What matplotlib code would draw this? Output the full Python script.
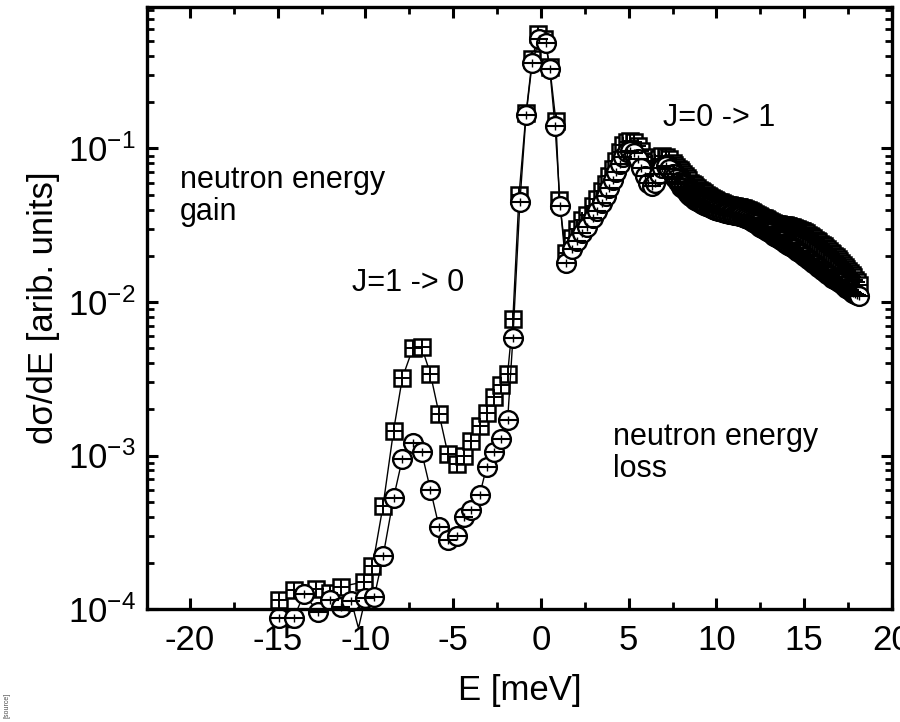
import numpy as np
import matplotlib
matplotlib.use("Agg")
import matplotlib.pyplot as plt
from matplotlib.ticker import MultipleLocator, LogLocator, NullFormatter

plt.rcParams["font.family"] = ["Liberation Sans", "DejaVu Sans"]
plt.rcParams["mathtext.fontset"] = "custom"
plt.rcParams["mathtext.rm"] = "Liberation Sans"
plt.rcParams["mathtext.it"] = "Liberation Sans:italic"
plt.rcParams["axes.unicode_minus"] = False

# serie 1 (cuadrados), parte hasta 7.5 meV
e_sq = [-14.9, -14.1, -12.8, -12.0, -11.4, -10.1, -9.6, -9.0, -8.4, -7.9,
        -7.3, -6.8, -6.3, -5.8, -5.3, -4.8, -4.4, -4.0, -3.5, -3.1,
        -2.7, -2.3, -1.9, -1.6, -1.25, -0.85, -0.5, -0.15, 0.2, 0.5,
        0.85, 1.05, 1.4, 1.75, 2.05, 2.35, 2.65, 2.95, 3.2, 3.45,
        3.7, 3.9, 4.1, 4.3, 4.5, 4.7, 4.9, 5.1, 5.3, 5.5,
        5.7, 5.9, 6.1, 6.3, 6.5, 6.7, 6.9, 7.1, 7.3, 7.5]
y_sq = [1.15e-4, 1.32e-4, 1.36e-4, 1.28e-4, 1.40e-4, 1.50e-4, 1.9e-4, 4.7e-4, 1.45e-3, 3.2e-3,
        5.0e-3, 5.1e-3, 3.4e-3, 1.85e-3, 1.02e-3, 8.8e-4, 1.0e-3, 1.25e-3, 1.55e-3, 1.9e-3,
        2.4e-3, 2.9e-3, 3.4e-3, 7.8e-3, 0.05, 0.17, 0.38, 0.56, 0.52, 0.34,
        0.15, 0.046, 0.021, 0.026, 0.030, 0.034, 0.037, 0.042, 0.047, 0.053,
        0.059, 0.066, 0.074, 0.083, 0.095, 0.105, 0.110, 0.112, 0.110, 0.104,
        0.096, 0.088, 0.083, 0.080, 0.082, 0.086, 0.089, 0.088, 0.085, 0.080]

# serie 2 (círculos), parte hasta 7.5 meV
e_ci = [-14.9, -14.1, -13.5, -12.7, -12.0, -11.4, -10.8, -10.4, -10.0, -9.5,
        -9.0, -8.4, -7.9, -7.3, -6.8, -6.3, -5.8, -5.3, -4.8, -4.4,
        -4.0, -3.5, -3.1, -2.7, -2.3, -1.9, -1.6, -1.2, -0.85, -0.5,
        -0.1, 0.28, 0.5, 0.8, 1.1, 1.4, 1.75, 2.05, 2.35, 2.65,
        2.95, 3.2, 3.45, 3.7, 3.9, 4.1, 4.3, 4.5, 4.7, 4.9,
        5.1, 5.3, 5.5, 5.7, 5.9, 6.1, 6.3, 6.5, 6.7, 6.9,
        7.1, 7.3, 7.5]
y_ci = [8.7e-5, 8.7e-5, 1.25e-4, 9.6e-5, 1.15e-4, 1.03e-4, 1.12e-4, 7.5e-5, 1.18e-4, 1.2e-4,
        2.2e-4, 5.3e-4, 9.5e-4, 1.2e-3, 1.05e-3, 6.0e-4, 3.4e-4, 2.8e-4, 3.0e-4, 4.0e-4,
        4.4e-4, 5.5e-4, 8.4e-4, 1.05e-3, 1.28e-3, 1.7e-3, 5.8e-3, 0.045, 0.165, 0.36,
        0.52, 0.49, 0.33, 0.14, 0.042, 0.018, 0.022, 0.025, 0.028, 0.031,
        0.035, 0.039, 0.044, 0.049, 0.055, 0.062, 0.070, 0.079, 0.088, 0.095,
        0.097, 0.093, 0.085, 0.075, 0.066, 0.060, 0.057, 0.060, 0.068, 0.075,
        0.077, 0.074, 0.068]
hidden_ci = [7]  # punto por debajo del eje (sin marcador visible)

# cola densa (pérdida de energía), común a ambas series
e_tail = [7.6, 7.7, 7.8, 7.9, 8.0, 8.1, 8.2, 8.3, 8.4, 8.5,
          8.6, 8.7, 8.8, 8.9, 9.0, 9.1, 9.2, 9.3, 9.4, 9.5,
          9.6, 9.7, 9.8, 9.9, 10.0, 10.1, 10.2, 10.3, 10.4, 10.5,
          10.6, 10.7, 10.8, 10.9, 11.0, 11.1, 11.2, 11.3, 11.4, 11.5,
          11.6, 11.7, 11.8, 11.9, 12.0, 12.1, 12.2, 12.3, 12.4, 12.5,
          12.6, 12.7, 12.8, 12.9, 13.0, 13.1, 13.2, 13.3, 13.4, 13.5,
          13.6, 13.7, 13.8, 13.9, 14.0, 14.1, 14.2, 14.3, 14.4, 14.5,
          14.6, 14.7, 14.8, 14.9, 15.0, 15.1, 15.2, 15.3, 15.4, 15.5,
          15.6, 15.7, 15.8, 15.9, 16.0, 16.1, 16.2, 16.3, 16.4, 16.5,
          16.6, 16.7, 16.8, 16.9, 17.0, 17.1, 17.2, 17.3, 17.4, 17.5,
          17.6, 17.7, 17.8, 17.9, 18.0, 18.1]
y_sq_tail = [.078, .076, .074, .072, .070, .068, .066, .064, .062, .060,
             .0588, .0576, .0564, .0552, .054, .053, .052, .051, .050, .049,
             .0483, .0476, .0469, .0462, .0455, .045, .0445, .044, .0435, .043,
             .0428, .0426, .0424, .0422, .042, .0418, .0416, .0414, .0412, .041,
             .0405, .040, .0395, .039, .0385, .038, .0375, .037, .0365, .036,
             .0355, .035, .0345, .034, .0335, .033, .0327, .0324, .0322, .032,
             .0319, .0318, .0317, .0316, .0315, .0312, .0309, .0306, .0303, .030,
             .0297, .0294, .0291, .0288, .0285, .028, .0275, .027, .0265, .026,
             .0255, .025, .0245, .024, .0235, .023, .0225, .022, .0215, .021,
             .0205, .020, .0195, .019, .0185, .018, .0175, .017, .0165, .016,
             .0155, .015, .0145, .014, .0135, .013]
y_ci_tail = [.0656, .0632, .0609, .0587, .0565, .055, .0535, .052, .0505, .049,
             .0481, .0472, .0463, .0454, .0445, .044, .0435, .043, .0425, .042,
             .0415, .041, .0405, .040, .0395, .0392, .0389, .0386, .0383, .038,
             .0378, .0376, .0374, .0372, .037, .0368, .0366, .0364, .0362, .036,
             .0355, .035, .0345, .034, .0335, .033, .0325, .032, .0315, .031,
             .0305, .030, .0295, .029, .0285, .028, .0275, .027, .0265, .026,
             .0256, .0252, .0248, .0244, .024, .0236, .0232, .0228, .0224, .022,
             .0216, .0212, .0208, .0204, .020, .0196, .0192, .0188, .0184, .018,
             .0176, .0173, .0169, .0166, .0162, .0159, .0156, .0153, .015, .0147,
             .0144, .0142, .0139, .0137, .0134, .0132, .0129, .0127, .0124, .0122,
             .012, .0117, .0115, .0113, .0111, .0109]

x1 = np.array(e_sq + e_tail)
y1 = np.array(y_sq + y_sq_tail)
x2 = np.array(e_ci + e_tail)
y2 = np.array(y_ci + y_ci_tail)
vis2 = np.ones(len(x2), bool)
vis2[hidden_ci] = False

fig = plt.figure(figsize=(9, 7.22), dpi=100)
ax = fig.add_axes([0.1633, 0.1565, 0.8278, 0.8338])

# cuadrados con cruz
ax.plot(x1, y1, "-", color="k", lw=1.0, marker="s", ms=11.5,
        mfc="white", mec="k", mew=1.8, clip_on=False)
ax.plot(x1, y1, ls="none", marker="+", ms=11.5, mec="k", mew=1.4, clip_on=False)

# círculos con barra
ax.plot(x2, y2, "-", color="k", lw=1.0, clip_on=False)
ax.plot(x2[vis2], y2[vis2], ls="none", marker="o", ms=13.5,
        mfc="white", mec="k", mew=1.7, clip_on=False)
ax.plot(x2[vis2], y2[vis2], ls="none", marker="_", ms=13.5, mec="k", mew=1.5,
        clip_on=False)
ax.plot(x2[vis2], y2[vis2], ls="none", marker="|", ms=6, mec="k", mew=1.0,
        clip_on=False)

ax.set_yscale("log")
ax.set_xlim(-22.45, 20.0)
ax.set_ylim(1e-4, 0.835)

ax.xaxis.set_major_locator(MultipleLocator(5))
ax.xaxis.set_minor_locator(MultipleLocator(2.5))
ax.yaxis.set_major_locator(LogLocator(base=10))
ax.yaxis.set_minor_locator(LogLocator(base=10, subs=np.arange(2, 10)))
ax.yaxis.set_minor_formatter(NullFormatter())

for s in ax.spines.values():
    s.set_linewidth(2.4)
    s.set_zorder(5)
ax.tick_params(which="both", direction="in", top=True, right=True,
               labelsize=25)
ax.tick_params(axis="x", pad=11)
ax.tick_params(axis="y", pad=8)
ax.tick_params(which="major", length=8, width=2.2)
ax.tick_params(which="minor", length=5, width=2.0)

ax.set_xlabel("E [meV]", fontsize=25, labelpad=12)
ax.set_ylabel("dσ/dE [arib. units]", fontsize=25, labelpad=6)

ax.text(0.044, 0.686, "neutron energy\ngain", transform=ax.transAxes,
        fontsize=22, ha="left", va="center", linespacing=1.1)
ax.text(0.275, 0.5415, "J=1 -> 0", transform=ax.transAxes,
        fontsize=22, ha="left", va="center")
ax.text(0.693, 0.8156, "J=0 -> 1", transform=ax.transAxes,
        fontsize=22, ha="left", va="center")
ax.text(0.6255, 0.259, "neutron energy\nloss", transform=ax.transAxes,
        fontsize=22, ha="left", va="center", linespacing=1.1)

fig.text(0.004, 0.005, "[source]", rotation=90, fontsize=5, color="0.3",
         ha="left", va="bottom")

fig.savefig("out.png", dpi=100)
